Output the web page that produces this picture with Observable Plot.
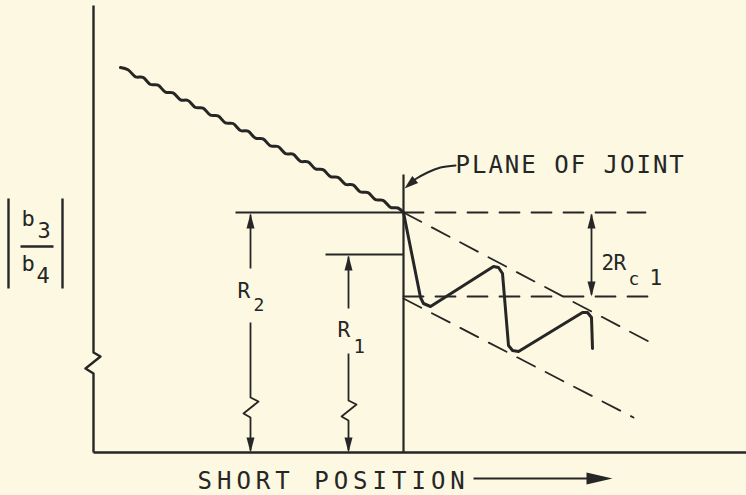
<!DOCTYPE html>
<html>
<head>
<meta charset="utf-8">
<script src="https://cdn.jsdelivr.net/npm/d3@7"></script>
<script src="https://cdn.jsdelivr.net/npm/@observablehq/plot@0.6"></script>
<style>
  html, body { margin: 0; padding: 0; background: #fcf8e1; }
  #chart { width: 746px; height: 495px; overflow: hidden; }
</style>
</head>
<body>
<div id="chart"></div>
<script>
// ---- Schematic data (diagram units; x = short position, y = |b3/b4| downward) ----
const yAxisLine   = [[93,5],[93,352],[100,356],[85,368],[93,373],[93,452]];
const xAxisLine   = [[93,452],[746,452]];
const jointLine   = [[403,174],[403,452]];
const r2RefLine   = [[235,212],[403,212]];
const r1RefLine   = [[325,254],[403,254]];
const r2DimTop    = [[250,214],[250,268]];
const r2DimBottom = [[250,322],[250,397],[258,401],[243,413],[250,417],[250,450]];
const r1DimTop    = [[348,256],[348,308]];
const r1DimBottom = [[348,353],[348,400],[356,404],[341,416],[348,420],[348,450]];
const rcDim       = [[591,214],[591,294]];
const xLabelArrow = [[473,478],[600,478]];
const labelBarL   = [[8,198],[8,288]];
const labelBarR   = [[62,198],[62,288]];
const fractionBar = [[20,246],[53,246]];

const dashedLines = [
  [[403,212],[645,212]],
  [[403,296],[652,296]],
  [[403,212],[650,342]],
  [[403,298],[633,417]]
];

// wavy (noisy) pre-joint trace
const wavyTrace = [
  [120,67.0],[127.5,69.2],[135,76.3],[142.5,76.9],[150,84.0],[157.5,84.6],[165,91.6],[172.5,92.3],
  [180,99.3],[187.5,100.0],[195,107.0],[202.5,107.6],[210,114.7],[217.5,115.3],[225,122.4],[232.5,123.0],
  [240,130.0],[247.5,130.7],[255,137.7],[262.5,138.4],[270,145.4],[277.5,146.0],[285,153.1],[292.5,153.7],
  [300,160.8],[307.5,161.4],[315,168.4],[322.5,169.1],[330,176.1],[337.5,176.8],[345,183.8],[352.5,184.4],
  [360,191.5],[367.5,192.1],[375,199.2],[382.5,199.8],[390,206.8],[397.5,207.5],[403,212]
];

// post-joint oscillating trace
const jointTrace = [
  [403,212],[420,297],[423,303],[430,306],[493,266],[498,267],[502,273],[508,345],[512,350],
  [518,351],[582,312],[587,312],[591,317],[592,348]
];

// leader from "PLANE OF JOINT" label
const leader = [[455,165],[440,167],[427,172],[416,178],[409,183]];

// arrowhead tips
const tipsUp    = [[250,213],[348,255],[591,213]];
const tipsDown  = [[250,452],[348,452],[591,296]];
const tipsRight = [[612,478]];
const tipsJoint = [[404,188]];

// texts
const labels = [
  {t:"PLANE OF JOINT", x:455, y:172, s:24},
  {t:"SHORT POSITION", x:197, y:488, s:24},
  {t:"R", x:237, y:297, s:21}, {t:"2", x:253, y:310, s:18},
  {t:"R", x:337, y:336, s:21}, {t:"1", x:353, y:352, s:19},
  {t:"2", x:601, y:269, s:21}, {t:"R", x:613, y:269, s:21},
  {t:"c", x:628, y:284, s:18}, {t:"1", x:649, y:284, s:21},
  {t:"b", x:21, y:225, s:22}, {t:"3", x:37, y:237, s:22},
  {t:"b", x:21, y:270, s:22}, {t:"4", x:36, y:282, s:22}
];
const letterSpacing = {"PLANE OF JOINT": 2, "SHORT POSITION": 5};

// ---- drawing ----
const INK = "#262626";
const FONT = "DejaVu Sans Mono";

function arrowSymbol(angleDeg, len, halfW) {
  const a = angleDeg * Math.PI / 180, dx = Math.cos(a), dy = Math.sin(a);
  const nx = -dy, ny = dx;
  return {
    draw(ctx) {
      ctx.moveTo(0, 0);
      ctx.lineTo(-len*dx + halfW*nx, -len*dy + halfW*ny);
      ctx.lineTo(-len*dx - halfW*nx, -len*dy - halfW*ny);
      ctx.closePath();
    }
  };
}

const px = d => d[0], py = d => d[1];
const solid = (data, w) => Plot.line(data, {x: px, y: py, stroke: INK, strokeWidth: w, strokeLinejoin: "round", strokeLinecap: "butt"});

const marks = [
  solid(yAxisLine, 2.4),
  solid(xAxisLine, 2.4),
  solid(jointLine, 2.2),
  solid(r2RefLine, 1.8),
  solid(r1RefLine, 1.8),
  solid(r2DimTop, 1.8), solid(r2DimBottom, 1.8),
  solid(r1DimTop, 1.8), solid(r1DimBottom, 1.8),
  solid(rcDim, 1.8),
  solid(xLabelArrow, 2),
  solid(labelBarL, 2.4), solid(labelBarR, 2.4), solid(fractionBar, 2.4),
  ...dashedLines.map(seg => Plot.line(seg, {x: px, y: py, stroke: INK, strokeWidth: 1.8, strokeDasharray: "20,12"})),
  Plot.line(wavyTrace, {x: px, y: py, stroke: INK, strokeWidth: 3, curve: "catmull-rom", strokeLinejoin: "round"}),
  Plot.line(jointTrace, {x: px, y: py, stroke: INK, strokeWidth: 3, strokeLinejoin: "round", strokeLinecap: "round"}),
  Plot.line(leader, {x: px, y: py, stroke: INK, strokeWidth: 2, curve: "natural"}),
  Plot.dot(tipsUp, {x: px, y: py, symbol: arrowSymbol(-90, 15, 4), fill: INK, stroke: "none", r: 5}),
  Plot.dot(tipsDown, {x: px, y: py, symbol: arrowSymbol(90, 15, 4), fill: INK, stroke: "none", r: 5}),
  Plot.dot(tipsRight, {x: px, y: py, symbol: arrowSymbol(0, 26, 6), fill: INK, stroke: "none", r: 5}),
  Plot.dot(tipsJoint, {x: px, y: py, symbol: arrowSymbol(140, 14, 4.5), fill: INK, stroke: "none", r: 5}),
  Plot.text(labels, {x: "x", y: "y", text: "t", fontSize: d => d.s, fontFamily: FONT, fill: INK,
                     textAnchor: "start", lineAnchor: "bottom"})
];

const chart = Plot.plot({
  width: 746, height: 495, margin: 0,
  x: {type: "linear", domain: [0, 746], range: [0, 746], axis: null},
  y: {type: "linear", domain: [0, 495], range: [0, 495], axis: null},
  style: {background: "#fcf8e1", overflow: "visible"},
  marks
});

d3.select(chart).selectAll("text").each(function() {
  const ls = letterSpacing[this.textContent];
  if (ls != null) this.setAttribute("letter-spacing", ls);
});

document.getElementById("chart").appendChild(chart);
</script>
</body>
</html>
